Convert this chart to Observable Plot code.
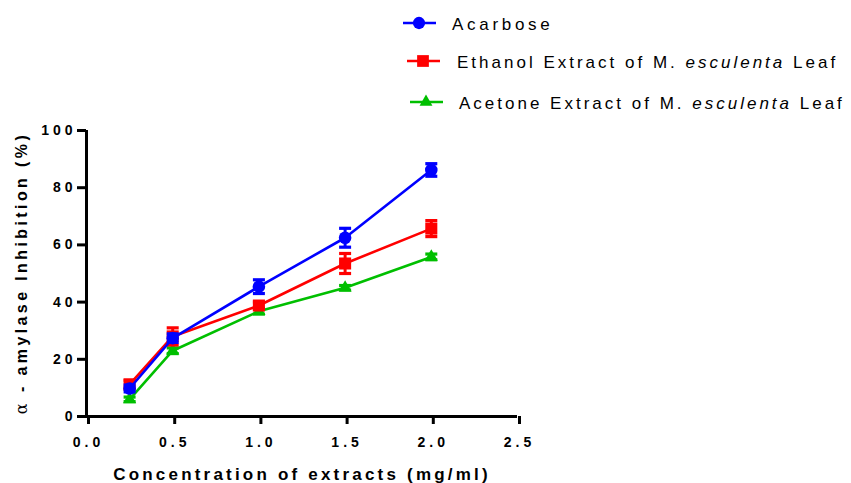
<!DOCTYPE html>
<html><head><meta charset="utf-8">
<script src="https://cdn.jsdelivr.net/npm/d3@7"></script>
<script src="https://cdn.jsdelivr.net/npm/@observablehq/plot@0.6"></script>
<style>
body{margin:0;background:#fff;font-family:"Liberation Sans",Arial,sans-serif;}
#chart svg g[aria-label$="tick label"] text{letter-spacing:4px;}
</style></head>
<body><div id="legend"></div><div id="chart"></div>
<script>
const conc = [0.25, 0.5, 1.0, 1.5, 2.0];
const acarbose = [9.8, 27.4, 45.4, 62.5, 86.2];
const acarboseErr = [1.2, 1.5, 2.4, 3.3, 2.2];
const ethanol = [11.2, 28.0, 38.8, 53.5, 65.7];
const ethanolErr = [1.5, 3.0, 1.2, 3.5, 2.8];
const acetone = [6.0, 23.0, 36.8, 45.0, 55.8];
const acetoneErr = [0.8, 1.0, 1.0, 0.8, 1.0];
const xTicks = [0, 0.5, 1.0, 1.5, 2.0, 2.5];
const yTicks = [0, 20, 40, 60, 80, 100];
const seriesNames = ["Acarbose", "Ethanol Extract of M. esculenta Leaf", "Acetone Extract of M. esculenta Leaf"];
const colors = ["#0000FF", "#FF0000", "#00BF00"];
const symbols = ["circle", "square", "triangle"];
const radii = [6.3, 6.8, 4.9];

const series = [
  {name: seriesNames[2], vals: acetone, err: acetoneErr, color: colors[2], symbol: symbols[2], r: radii[2]},
  {name: seriesNames[1], vals: ethanol, err: ethanolErr, color: colors[1], symbol: symbols[1], r: radii[1]},
  {name: seriesNames[0], vals: acarbose, err: acarboseErr, color: colors[0], symbol: symbols[0], r: radii[0]}
];

const capSymbol = {draw(ctx, size){ const r = Math.sqrt(size/Math.PI); ctx.moveTo(-r,0); ctx.lineTo(r,0);} };

const marks = [];
for (const s of series) {
  const rows = conc.map((c,i)=>({x:c, y:s.vals[i], lo:s.vals[i]-s.err[i], hi:s.vals[i]+s.err[i]}));
  marks.push(Plot.line(rows, {x:"x", y:"y", stroke:s.color, strokeWidth:2.6}));
  marks.push(Plot.ruleX(rows, {x:"x", y1:"lo", y2:"hi", stroke:s.color, strokeWidth:3}));
  marks.push(Plot.dot(rows, {x:"x", y:"lo", symbol:capSymbol, r:6, stroke:s.color, strokeWidth:3.2, fill:"none"}));
  marks.push(Plot.dot(rows, {x:"x", y:"hi", symbol:capSymbol, r:6, stroke:s.color, strokeWidth:3.2, fill:"none"}));
  marks.push(Plot.dot(rows, {x:"x", y:"y", symbol:s.symbol, r:s.r, fill:s.color, stroke:"none"}));
}

const plot = Plot.plot({
  width: 851, height: 363,
  marginLeft: 86, marginRight: 334, marginTop: 10, marginBottom: 67,
  style: {fontFamily: "'Liberation Sans', Arial, sans-serif", fontSize: "14px", fontWeight: "bold", color: "#000", background: "#fff"},
  x: {domain: [0, 2.5]},
  y: {domain: [0, 100]},
  marks: [
    Plot.axisX({ticks: xTicks, tickFormat: d => d.toFixed(1), tickSize: 8, tickPadding: 13, strokeWidth: 3, label: null, dx: 2, fontSize: 14, fontWeight: "bold"}),
    Plot.axisY({ticks: yTicks, tickSize: 9, tickPadding: 1, strokeWidth: 3, label: null, fontSize: 14, fontWeight: "bold"}),
    Plot.ruleY([0], {stroke: "#000", strokeWidth: 3}),
    Plot.ruleX([0], {stroke: "#000", strokeWidth: 3}),
    ...marks
  ]
});
document.getElementById("chart").appendChild(plot);

const svg = d3.select(plot);
svg.append("text").attr("x", 302).attr("y", 360).attr("text-anchor", "middle")
  .style("font-size", "17px").style("font-weight", "bold").style("letter-spacing", "3.2px")
  .text("Concentration of extracts (mg/ml)");
const yt = svg.append("text").attr("transform", "translate(27,153) rotate(-90)").attr("text-anchor", "middle")
  .style("font-size", "16px").style("font-weight", "bold").style("letter-spacing", "3.4px");
yt.append("tspan").style("font-weight", "normal").style("font-family", "'DejaVu Serif', serif").text("α");
yt.append("tspan").text(" - amylase Inhibition (%)");

// legend
const lg = d3.select("#legend").append("svg").attr("width", 851).attr("height", 120).style("display", "block");
const legendRows = [
  {i:0, y:23, x1:403, x2:436, mx:419, tx:452, ty:30, ls:3.7},
  {i:1, y:61, x1:407, x2:440, mx:423, tx:457, ty:68, ls:3},
  {i:2, y:102, x1:410, x2:443, mx:426, tx:459, ty:109, ls:3}
];
for (const L of legendRows) {
  const c = colors[L.i];
  lg.append("line").attr("x1", L.x1).attr("x2", L.x2).attr("y1", L.y).attr("y2", L.y).attr("stroke", c).attr("stroke-width", 2.6);
  const sym = {circle: d3.symbolCircle, square: d3.symbolSquare, triangle: d3.symbolTriangle}[symbols[L.i]];
  lg.append("path").attr("d", d3.symbol(sym, Math.PI*radii[L.i]*radii[L.i]*0.95)()).attr("transform", `translate(${L.mx},${L.y})`).attr("fill", c);
  const t = lg.append("text").attr("x", L.tx).attr("y", L.ty).style("font-size", "17px").style("letter-spacing", L.ls + "px").style("font-family", "'Liberation Sans', Arial, sans-serif");
  if (L.i === 0) t.text(seriesNames[0]);
  else {
    const parts = seriesNames[L.i].split("esculenta");
    t.append("tspan").text(parts[0]);
    t.append("tspan").style("font-style", "italic").text("esculenta");
    t.append("tspan").text(parts[1]);
  }
}
</script></body></html>
